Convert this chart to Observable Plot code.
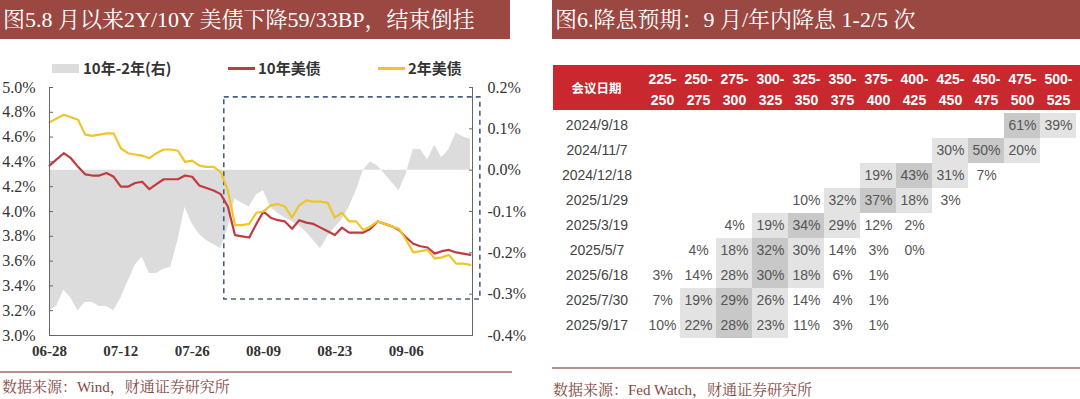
<!DOCTYPE html>
<html><head><meta charset="utf-8">
<script src="https://cdn.jsdelivr.net/npm/d3@7"></script>
<script src="https://cdn.jsdelivr.net/npm/@observablehq/plot@0.6"></script>
<style>
html,body{margin:0;padding:0;background:#fff;}
body{width:1080px;height:399px;position:relative;overflow:hidden;}
.abs{position:absolute;}
.bar{background:#9B4742;color:#fff;font-family:'Liberation Serif','Noto Serif CJK SC','Noto Sans CJK SC',serif;font-size:22px;line-height:39px;white-space:nowrap;}
.leg{font-family:'Noto Sans CJK SC',sans-serif;font-weight:bold;font-size:15px;color:#333;line-height:18px;white-space:nowrap;}
.src{font-family:'Liberation Serif','Noto Serif CJK SC','Noto Sans CJK SC',serif;font-size:15px;color:#86463F;white-space:nowrap;line-height:18px;}
.sep{background:#B98F8B;height:2px;}
</style></head><body>
<div id="root"></div>
<script>
// ---------- Left chart data ----------
const dates = ["06-28","07-01","07-02","07-03","07-04","07-05","07-08","07-09","07-10","07-11","07-12","07-15","07-16","07-17","07-18","07-19","07-22","07-23","07-24","07-25","07-26","07-29","07-30","07-31","08-01","08-02","08-05","08-06","08-07","08-08","08-09","08-12","08-13","08-14","08-15","08-16","08-19","08-20","08-21","08-22","08-23","08-26","08-27","08-28","08-29","08-30","09-02","09-03","09-04","09-05","09-06","09-09","09-10","09-11","09-12","09-13","09-16","09-17","09-18","09-19"];
const yield2Y = [4.72,4.75,4.78,4.76,4.74,4.62,4.61,4.62,4.63,4.63,4.51,4.47,4.46,4.45,4.43,4.47,4.50,4.50,4.49,4.40,4.41,4.37,4.36,4.36,4.32,4.17,3.89,3.89,3.90,3.99,4.00,4.05,4.06,4.04,3.95,4.05,4.09,4.08,4.08,4.07,3.95,3.99,3.92,3.92,3.85,3.88,3.92,3.90,3.88,3.86,3.77,3.67,3.68,3.69,3.62,3.63,3.65,3.58,3.58,3.57];
const yield10Y = [4.37,4.42,4.47,4.43,4.36,4.30,4.29,4.29,4.31,4.28,4.20,4.20,4.23,4.24,4.18,4.22,4.26,4.26,4.26,4.29,4.28,4.21,4.19,4.17,4.14,4.04,3.81,3.80,3.79,3.90,4.00,3.95,3.93,3.92,3.86,3.93,3.91,3.90,3.87,3.84,3.81,3.87,3.83,3.83,3.83,3.86,3.92,3.90,3.88,3.85,3.79,3.74,3.72,3.71,3.66,3.68,3.69,3.67,3.66,3.65];
const spread = [-0.34,-0.33,-0.29,-0.31,-0.34,-0.32,-0.32,-0.33,-0.33,-0.34,-0.31,-0.27,-0.23,-0.21,-0.25,-0.25,-0.24,-0.235,-0.17,-0.09,-0.13,-0.155,-0.17,-0.18,-0.19,-0.14,-0.07,-0.08,-0.09,-0.06,-0.05,-0.09,-0.105,-0.115,-0.125,-0.135,-0.15,-0.17,-0.19,-0.16,-0.14,-0.12,-0.09,-0.05,0.00,0.02,0.01,-0.01,-0.03,-0.05,-0.01,0.05,0.05,0.025,0.06,0.03,0.05,0.09,0.08,0.075];
const xTickLabels = ["06-28","07-12","07-26","08-09","08-23","09-06"];
const leftTicks = [3.0,3.2,3.4,3.6,3.8,4.0,4.2,4.4,4.6,4.8,5.0];
const rightTicks = [-0.4,-0.3,-0.2,-0.1,0.0,0.1,0.2];
const highlightBox = [{from: 24.5, to: 60.4, low: 3.29, high: 4.92}]; // in date-index / left-axis units

// ---------- Right table data ----------
const meetings = ["2024/9/18","2024/11/7","2024/12/18","2025/1/29","2025/3/19","2025/5/7","2025/6/18","2025/7/30","2025/9/17"];
const rateBins = ["225-250","250-275","275-300","300-325","325-350","350-375","375-400","400-425","425-450","450-475","475-500","500-525"];
const probRows = [
  [null,null,null,null,null,null,null,null,null,null,61,39],
  [null,null,null,null,null,null,null,null,30,50,20,null],
  [null,null,null,null,null,null,19,43,31,7,null,null],
  [null,null,null,null,10,32,37,18,3,null,null,null],
  [null,null,4,19,34,29,12,2,null,null,null,null],
  [null,4,18,32,30,14,3,0,null,null,null,null],
  [3,14,28,30,18,6,1,null,null,null,null,null],
  [7,19,29,26,14,4,1,null,null,null,null,null],
  [10,22,28,23,11,3,1,null,null,null,null,null]
];

const root = document.getElementById("root");
function add(html){ root.insertAdjacentHTML("beforeend", html); }

// Titles
add(`<div class="abs bar" style="left:0;top:0;width:510px;height:39px;padding-left:3px;box-sizing:border-box;">图5.8 月以来2Y/10Y 美债下降59/33BP，结束倒挂</div>`);
add(`<div class="abs bar" style="left:552px;top:0;width:528px;height:39px;padding-left:3px;box-sizing:border-box;">图6.降息预期：9 月/年内降息 1-2/5 次</div>`);

// Legend (left)
add(`<div class="abs" style="left:52px;top:64px;width:27px;height:9px;background:#DCDCDC"></div>`);
add(`<div class="abs leg" style="left:83px;top:59px;">10年-2年(右)</div>`);
add(`<div class="abs" style="left:228px;top:67px;width:27px;height:2.5px;background:#C23A3F"></div>`);
add(`<div class="abs leg" style="left:258px;top:59px;">10年美债</div>`);
add(`<div class="abs" style="left:378px;top:67px;width:27px;height:2.5px;background:#EEC52B"></div>`);
add(`<div class="abs leg" style="left:408px;top:59px;">2年美债</div>`);

// Left chart
const r2l = r => 3 + (r + 0.4) * 10 / 3;
const l2r = v => { const r = Math.round(((v - 3) * 0.3 - 0.4) * 10) / 10; return r; };
const rows = dates.map((d, i) => ({i, date: d, y2: yield2Y[i], y10: yield10Y[i], spread: spread[i]}));
const xTickIdx = xTickLabels.map(l => dates.indexOf(l));
const serif = "'Liberation Serif', serif";

const left = Plot.plot({
  width: 540, height: 315,
  marginLeft: 49, marginRight: 68, marginTop: 37, marginBottom: 30,
  x: {domain: [0, 59.3]},
  y: {domain: [3, 5]},
  style: {background: "transparent", overflow: "visible", fontFamily: serif, fontSize: "16px", color: "#333"},
  marks: [
    Plot.areaY(rows, {x: "i", y1: () => r2l(0), y2: d => r2l(d.spread), fill: "#DCDCDC"}),
    Plot.rect(highlightBox, {x1: "from", x2: "to", y1: "low", y2: "high", fill: "none", stroke: "#46617F", strokeWidth: 1.6, strokeDasharray: "5,4"}),
    Plot.line(rows, {x: "i", y: "y10", stroke: "#C23A3F", strokeWidth: 2.2}),
    Plot.line(rows, {x: "i", y: "y2", stroke: "#EEC52B", strokeWidth: 2.2}),
    Plot.ruleX([0], {stroke: "#666"}),
    Plot.ruleX([59.3], {stroke: "#666"}),
    Plot.ruleY([3], {stroke: "#666"}),
    Plot.axisY(leftTicks, {anchor: "left", label: null, tickSize: -4, tickPadding: 18, stroke: "#666", tickFormat: d => d.toFixed(1) + "%", fontSize: 16, fill: "#333"}),
    Plot.axisY(rightTicks.map(r2l), {anchor: "right", label: null, tickSize: -4, tickPadding: 19, stroke: "#666", tickFormat: v => l2r(v).toFixed(1) + "%", fontSize: 16, fill: "#333"}),
    Plot.axisX(xTickIdx, {anchor: "bottom", label: null, tickSize: 0, tickPadding: 10, tickFormat: i => dates[i], fontWeight: "bold", fontSize: 15, fill: "#333"})
  ]
});
left.style.position = "absolute"; left.style.left = "0px"; left.style.top = "50px";
root.appendChild(left);

// Right table
add(`<div class="abs" style="left:553px;top:65px;width:527px;height:45px;background:#C8282E"></div>`);
add(`<div class="abs" style="left:553px;top:65px;width:87px;height:45px;line-height:45px;text-align:center;color:#fff;font-family:'Noto Sans CJK SC',sans-serif;font-weight:bold;font-size:12.5px;">会议日期</div>`);

const cells = [];
probRows.forEach((row, r) => {
  const vals = row.filter(v => v !== null);
  const mx = Math.max(...vals);
  row.forEach((v, c) => {
    if (v === null) return;
    const shade = v === mx ? "#C8C8C8" : (v >= 15 ? "#E3E3E3" : null);
    cells.push({meeting: meetings[r], bin: rateBins[c], p: v, shade});
  });
});
const sans = "'Liberation Sans', Arial, sans-serif";
const table = Plot.plot({
  width: 527, height: 280,
  marginLeft: 87, marginRight: 0, marginTop: 45, marginBottom: 5,
  x: {type: "band", domain: rateBins, padding: 0, axis: null},
  y: {type: "band", domain: meetings, padding: 0, axis: null},
  style: {background: "transparent", overflow: "visible", fontFamily: sans},
  marks: [
    Plot.cell(cells.filter(d => d.shade), {x: "bin", y: "meeting", fill: "shade"}),
    Plot.text(cells, {x: "bin", y: "meeting", text: d => d.p + "%", fontSize: 14, fill: "#555"}),
    Plot.axisX({anchor: "top", label: null, tickSize: 0, tickPadding: 6, tickFormat: d => d.replace("-", "-\n"), fill: "#fff", fontWeight: "bold", fontSize: 14, lineHeight: 1.45}),
    Plot.axisY({anchor: "left", label: null, tickSize: 0, tickPadding: 0, textAnchor: "middle", dx: -43.5, fontSize: 14, fill: "#444"})
  ]
});
table.style.position = "absolute"; table.style.left = "553px"; table.style.top = "65px";
root.appendChild(table);

// Separators and sources
add(`<div class="abs sep" style="left:0;top:371px;width:512px;"></div>`);
add(`<div class="abs src" style="left:2px;top:378px;">数据来源：Wind，财通证券研究所</div>`);
add(`<div class="abs sep" style="left:552px;top:367px;width:528px;"></div>`);
add(`<div class="abs src" style="left:553px;top:381px;">数据来源：Fed Watch，财通证券研究所</div>`);
</script>
</body></html>
